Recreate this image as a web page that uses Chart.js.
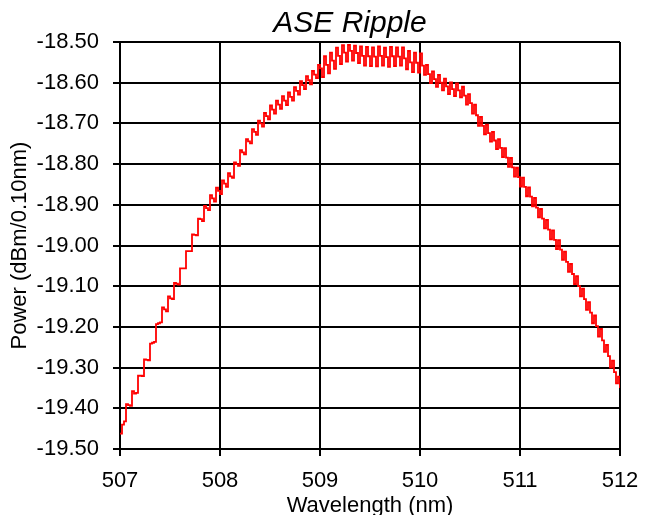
<!DOCTYPE html>
<html>
<head>
<meta charset="utf-8">
<script src="https://cdn.jsdelivr.net/npm/chart.js@4.4.1/dist/chart.umd.min.js"></script>
<style>
  html, body { margin: 0; padding: 0; background: #ffffff; }
  #wrap { position: relative; width: 654px; height: 515px; }
</style>
</head>
<body>
<div id="wrap"><canvas id="rippleChart" width="654" height="515"></canvas></div>
<script>
// Data
const chartTitle = "ASE Ripple";
const xTitle = "Wavelength (nm)";
const yTitle = "Power (dBm/0.10nm)";

const xTicks = [507, 508, 509, 510, 511, 512];
const yTicks = [-19.5, -19.4, -19.3, -19.2, -19.1, -19.0, -18.9, -18.8, -18.7, -18.6, -18.5];

const wavelength = [
  507.00, 507.02, 507.04, 507.06, 507.08, 507.10, 507.12, 507.14, 507.16, 507.18,
  507.20, 507.22, 507.24, 507.26, 507.28, 507.30, 507.32, 507.34, 507.36, 507.38,
  507.40, 507.42, 507.44, 507.46, 507.48, 507.50, 507.52, 507.54, 507.56, 507.58,
  507.60, 507.62, 507.64, 507.66, 507.68, 507.70, 507.72, 507.74, 507.76, 507.78,
  507.80, 507.82, 507.84, 507.86, 507.88, 507.90, 507.92, 507.94, 507.96, 507.98,
  508.00, 508.02, 508.04, 508.06, 508.08, 508.10, 508.12, 508.14, 508.16, 508.18,
  508.20, 508.22, 508.24, 508.26, 508.28, 508.30, 508.32, 508.34, 508.36, 508.38,
  508.40, 508.42, 508.44, 508.46, 508.48, 508.50, 508.52, 508.54, 508.56, 508.58,
  508.60, 508.62, 508.64, 508.66, 508.68, 508.70, 508.72, 508.74, 508.76, 508.78,
  508.80, 508.82, 508.84, 508.86, 508.88, 508.90, 508.92, 508.94, 508.96, 508.98,
  509.00, 509.02, 509.04, 509.06, 509.08, 509.10, 509.12, 509.14, 509.16, 509.18,
  509.20, 509.22, 509.24, 509.26, 509.28, 509.30, 509.32, 509.34, 509.36, 509.38,
  509.40, 509.42, 509.44, 509.46, 509.48, 509.50, 509.52, 509.54, 509.56, 509.58,
  509.60, 509.62, 509.64, 509.66, 509.68, 509.70, 509.72, 509.74, 509.76, 509.78,
  509.80, 509.82, 509.84, 509.86, 509.88, 509.90, 509.92, 509.94, 509.96, 509.98,
  510.00, 510.02, 510.04, 510.06, 510.08, 510.10, 510.12, 510.14, 510.16, 510.18,
  510.20, 510.22, 510.24, 510.26, 510.28, 510.30, 510.32, 510.34, 510.36, 510.38,
  510.40, 510.42, 510.44, 510.46, 510.48, 510.50, 510.52, 510.54, 510.56, 510.58,
  510.60, 510.62, 510.64, 510.66, 510.68, 510.70, 510.72, 510.74, 510.76, 510.78,
  510.80, 510.82, 510.84, 510.86, 510.88, 510.90, 510.92, 510.94, 510.96, 510.98,
  511.00, 511.02, 511.04, 511.06, 511.08, 511.10, 511.12, 511.14, 511.16, 511.18,
  511.20, 511.22, 511.24, 511.26, 511.28, 511.30, 511.32, 511.34, 511.36, 511.38,
  511.40, 511.42, 511.44, 511.46, 511.48, 511.50, 511.52, 511.54, 511.56, 511.58,
  511.60, 511.62, 511.64, 511.66, 511.68, 511.70, 511.72, 511.74, 511.76, 511.78,
  511.80, 511.82, 511.84, 511.86, 511.88, 511.90, 511.92, 511.94, 511.96, 511.98,
  512.00
];

const power = [
  -19.462, -19.440, -19.432, -19.390, -19.392, -19.394, -19.358, -19.364, -19.362, -19.320,
  -19.320, -19.321, -19.280, -19.281, -19.282, -19.241, -19.239, -19.237, -19.193, -19.191,
  -19.189, -19.152, -19.157, -19.162, -19.125, -19.130, -19.132, -19.092, -19.094, -19.096,
  -19.056, -19.056, -19.056, -19.014, -19.014, -19.014, -18.973, -18.974, -18.975, -18.934,
  -18.935, -18.940, -18.903, -18.908, -18.913, -18.876, -18.884, -18.892, -18.858, -18.866,
  -18.874, -18.840, -18.848, -18.856, -18.822, -18.830, -18.834, -18.796, -18.800, -18.804,
  -18.766, -18.771, -18.776, -18.739, -18.744, -18.749, -18.714, -18.721, -18.728, -18.693,
  -18.700, -18.708, -18.674, -18.682, -18.690, -18.656, -18.666, -18.676, -18.644, -18.654,
  -18.664, -18.633, -18.644, -18.655, -18.624, -18.635, -18.644, -18.611, -18.620, -18.629,
  -18.596, -18.606, -18.616, -18.584, -18.594, -18.604, -18.571, -18.580, -18.589, -18.556,
  -18.565, -18.586, -18.535, -18.556, -18.577, -18.526, -18.546, -18.566, -18.514, -18.534,
  -18.554, -18.508, -18.526, -18.548, -18.507, -18.522, -18.546, -18.509, -18.527, -18.552,
  -18.511, -18.534, -18.558, -18.512, -18.535, -18.559, -18.513, -18.536, -18.560, -18.511,
  -18.534, -18.558, -18.514, -18.537, -18.561, -18.512, -18.535, -18.559, -18.513, -18.536,
  -18.558, -18.513, -18.540, -18.567, -18.522, -18.550, -18.574, -18.526, -18.551, -18.575,
  -18.528, -18.558, -18.581, -18.556, -18.579, -18.601, -18.572, -18.591, -18.610, -18.581,
  -18.600, -18.619, -18.590, -18.609, -18.628, -18.599, -18.616, -18.633, -18.602, -18.619,
  -18.636, -18.610, -18.632, -18.654, -18.628, -18.650, -18.676, -18.654, -18.680, -18.706,
  -18.684, -18.706, -18.727, -18.703, -18.724, -18.745, -18.721, -18.742, -18.763, -18.739,
  -18.760, -18.783, -18.761, -18.784, -18.807, -18.785, -18.808, -18.831, -18.809, -18.832,
  -18.855, -18.833, -18.856, -18.879, -18.857, -18.880, -18.904, -18.883, -18.907, -18.931,
  -18.910, -18.934, -18.958, -18.937, -18.961, -18.985, -18.963, -18.986, -19.009, -18.987,
  -19.010, -19.035, -19.015, -19.040, -19.065, -19.045, -19.070, -19.095, -19.075, -19.100,
  -19.125, -19.106, -19.132, -19.158, -19.139, -19.165, -19.191, -19.172, -19.198, -19.224,
  -19.205, -19.233, -19.261, -19.244, -19.272, -19.300, -19.283, -19.311, -19.339, -19.322,
  -19.350
];

const FONT = "'Liberation Sans', Arial, sans-serif";

// draws title and axis titles at fixed spots, like the original sheet
const textPlugin = {
  id: "fixedText",
  afterDraw(chart) {
    const ctx = chart.ctx;
    const area = chart.chartArea;
    ctx.save();
    ctx.fillStyle = "#000000";
    ctx.textAlign = "center";
    ctx.textBaseline = "alphabetic";

    ctx.font = "italic 30px " + FONT;
    ctx.fillText(chartTitle, 350, 32);

    ctx.font = "22px " + FONT;
    ctx.fillText(xTitle, (area.left + area.right) / 2, 512);

    ctx.translate(26, (area.top + area.bottom) / 2);
    ctx.rotate(-Math.PI / 2);
    ctx.fillText(yTitle, 0, 0);
    ctx.restore();
  },
};

function renderChart() {
  const ctx = document.getElementById("rippleChart").getContext("2d");
  new Chart(ctx, {
    type: "line",
    data: {
      datasets: [
        {
          label: "ASE",
          data: wavelength.map((w, i) => ({ x: w, y: power[i] })),
          borderColor: "#ff0000",
          borderWidth: 1.8,
          pointRadius: 0,
          stepped: true,
          fill: false,
        },
      ],
    },
    options: {
      responsive: false,
      animation: false,
      devicePixelRatio: 1,
      layout: { padding: { left: 0, right: 34, top: 42, bottom: 0 } },
      plugins: {
        legend: { display: false },
        tooltip: { enabled: false },
        title: { display: false },
      },
      scales: {
        x: {
          type: "linear",
          min: xTicks[0],
          max: xTicks[xTicks.length - 1],
          afterBuildTicks: (scale) => {
            scale.ticks = xTicks.map((v) => ({ value: v }));
          },
          afterFit: (scale) => {
            scale.height = 66;
          },
          ticks: {
            color: "#000000",
            font: { family: FONT, size: 22 },
            padding: 12,
            maxRotation: 0,
            callback: (v) => String(v),
          },
          grid: {
            color: "#000000",
            lineWidth: 2,
            tickLength: 7,
          },
          border: { color: "#000000", width: 2 },
        },
        y: {
          type: "linear",
          min: yTicks[0],
          max: yTicks[yTicks.length - 1],
          afterBuildTicks: (scale) => {
            scale.ticks = yTicks.map((v) => ({ value: v }));
          },
          afterFit: (scale) => {
            scale.width = 120;
          },
          ticks: {
            color: "#000000",
            font: { family: FONT, size: 22 },
            padding: 14,
            callback: (v) => Number(v).toFixed(2),
          },
          grid: {
            color: "#000000",
            lineWidth: 2,
            tickLength: 7,
          },
          border: { color: "#000000", width: 2 },
        },
      },
    },
    plugins: [textPlugin],
  });
}

renderChart();
</script>
</body>
</html>
